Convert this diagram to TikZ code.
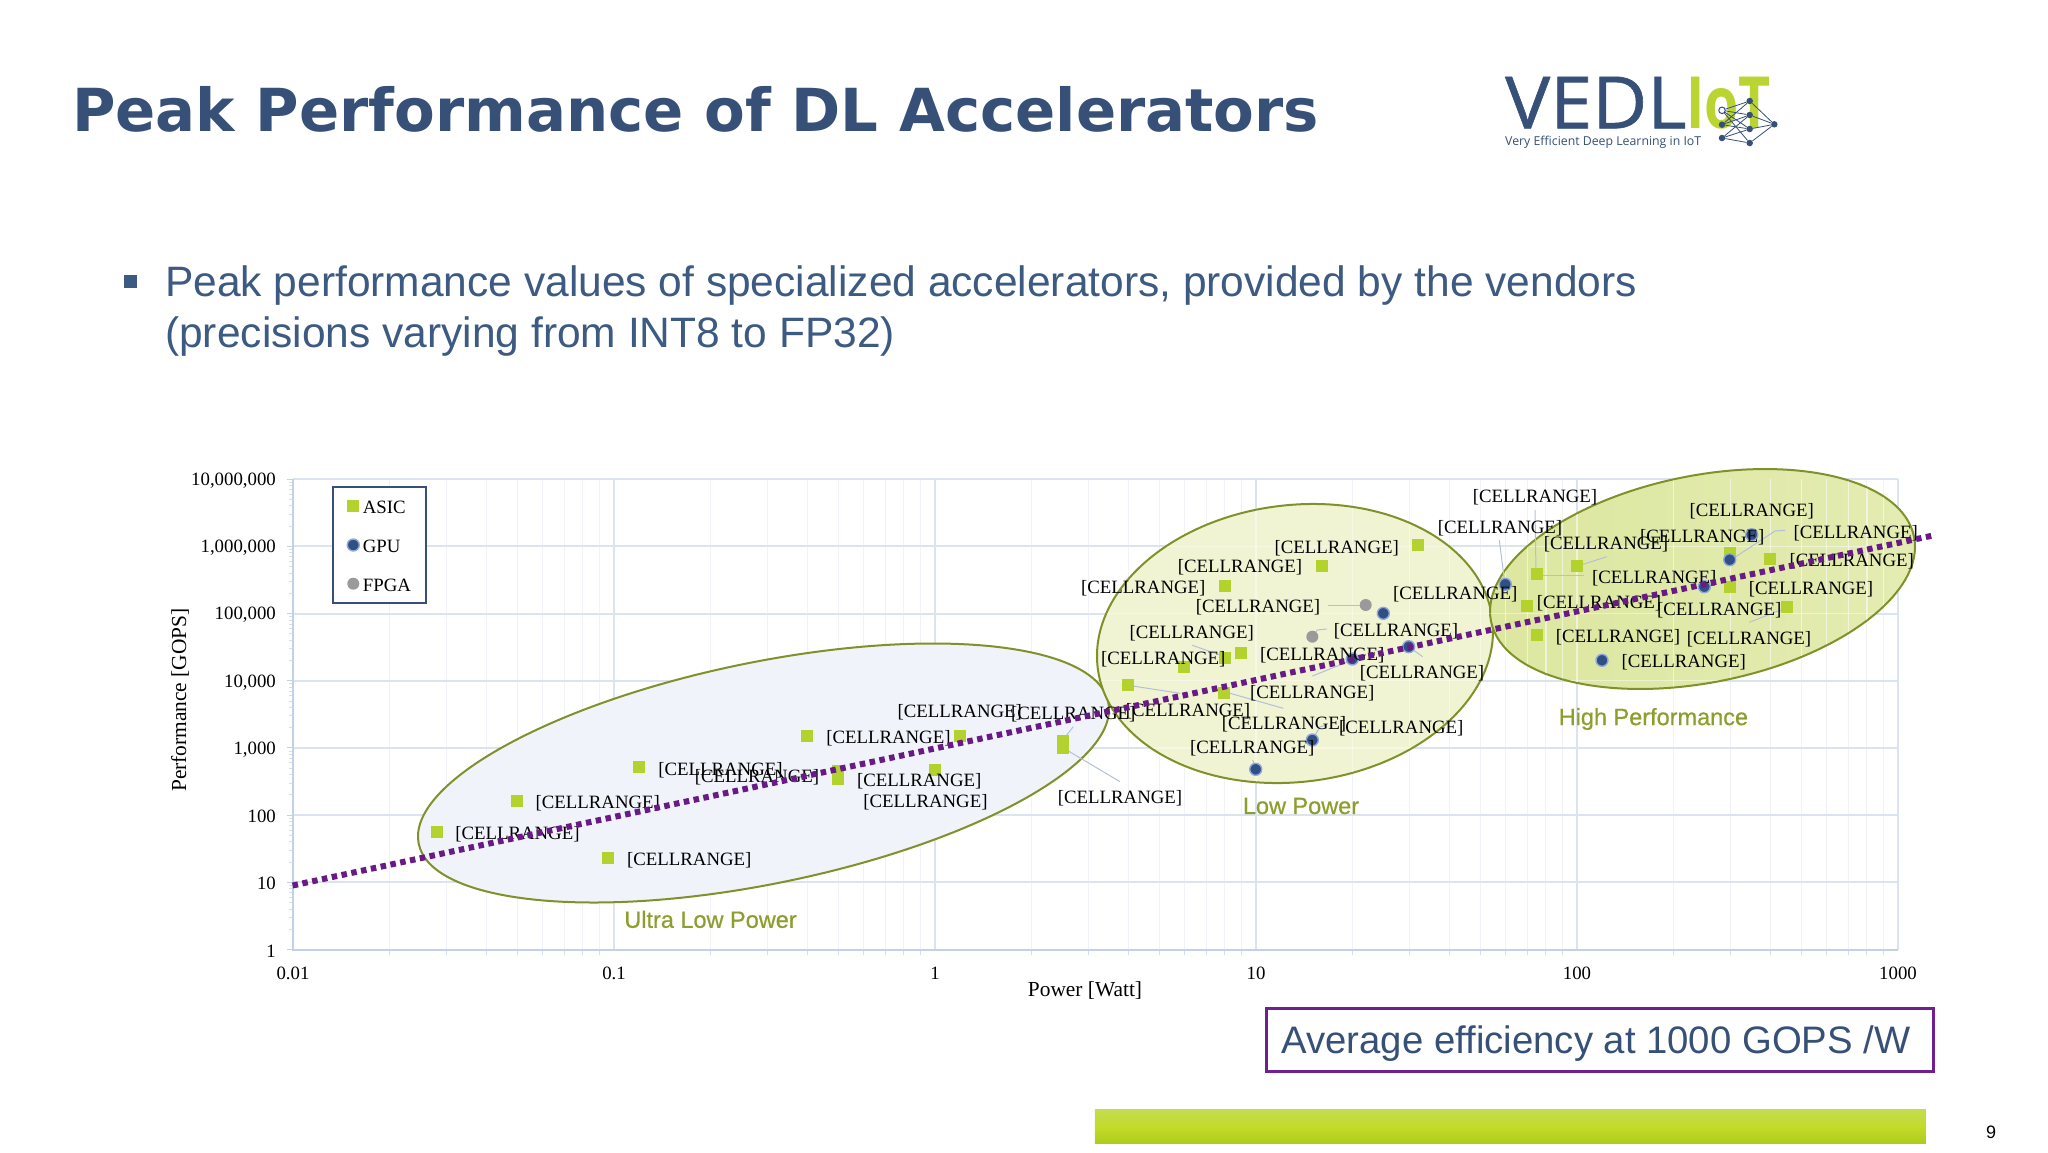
\documentclass[tikz,border=0pt]{standalone}
\usepackage{fontspec}
\setmainfont{Liberation Serif}
\newfontfamily\arialf{Liberation Sans}
\newfontfamily\grpf[FakeBold=0.6]{Liberation Sans}
\newfontfamily\titlef{DejaVu Sans}
\newfontfamily\logof{Open Sans}
\newfontfamily\logoh[FakeBold=0.8]{Open Sans}
\definecolor{navy}{HTML}{365078}
\definecolor{bodyblue}{HTML}{3C5A82}
\definecolor{major}{HTML}{DCE3F0}
\definecolor{minorg}{HTML}{EFF2F7}
\definecolor{axisb}{HTML}{C3D0E6}
\definecolor{leader}{HTML}{B4C0DA}
\definecolor{asic}{HTML}{B4D22E}
\definecolor{gpu}{HTML}{2F4F85}
\definecolor{halo}{HTML}{8FA8D8}
\definecolor{fpga}{HTML}{9A9A9A}
\definecolor{olive}{HTML}{7F9128}
\definecolor{grp}{HTML}{8C9E2B}
\definecolor{purp}{HTML}{681B84}
\definecolor{boxp}{HTML}{6F1F8F}
\definecolor{logog}{HTML}{BAD531}
\definecolor{EllU}{HTML}{F0F3FA}
\definecolor{EllL}{HTML}{F0F4D2}
\definecolor{EllHa}{HTML}{DCE7A0}
\definecolor{EllHb}{HTML}{E4ECB2}
\definecolor{BarT}{HTML}{C4DC50}
\definecolor{BarM}{HTML}{C3DB2A}
\definecolor{BarB}{HTML}{AFCC1A}
\tikzset{
 x=1pt,y=-1pt,
 lbl/.style={inner sep=0pt,font=\fontsize{18.8}{20}\selectfont,text=black,yshift=-1.5pt},
 axt/.style={inner sep=0pt,font=\fontsize{21.4}{24}\selectfont,text=black},
 sq/.style={fill=asic,draw=none,minimum size=12pt,inner sep=0pt,rectangle},
 gp/.style={circle,fill=gpu,draw=halo,line width=1.4pt,minimum size=12pt,inner sep=0pt},
 fp/.style={circle,fill=fpga,draw=none,minimum size=12pt,inner sep=0pt},
 lead/.style={draw=leader,line width=1pt},
 grpl/.style={inner sep=0pt,font=\grpf\fontsize{23.5}{26}\selectfont,text=grp},
 ell/.style={draw=olive,line width=2pt},
 nn/.style={circle,fill=navy,minimum size=6.5pt,inner sep=0pt},
}
\begin{document}
\begin{tikzpicture}
\useasboundingbox (0,0) rectangle (2048,1152);
\fill[white] (0,0) rectangle (2048,1152);
% grid
\foreach \d in {0,...,4}{
 \foreach \m in {2,...,9}{
  \pgfmathsetmacro\xx{293+321*(\d+log10(\m))}
  \draw[minorg,line width=1pt] (\xx,479)--(\xx,950);
  \draw[axisb!70,line width=1pt] (\xx,950)--(\xx,955);
 }
}
\foreach \d in {1,...,5}{
  \pgfmathsetmacro\xx{293+321*\d}
  \draw[major,line width=2pt] (\xx,479)--(\xx,950);
}
\foreach \d in {0,...,7}{
  \pgfmathsetmacro\yy{949.5-67.2*\d}
  \draw[major,line width=2pt] (293,\yy)--(1898,\yy);
  \draw[axisb,line width=1pt] (287,\yy)--(293,\yy);
}
\foreach \d in {0,...,6}{
 \foreach \m in {2,...,9}{
  \pgfmathsetmacro\yy{949.5-67.2*(\d+log10(\m))}
  \draw[axisb!70,line width=.8pt] (289,\yy)--(293,\yy);
 }
}
\draw[axisb,line width=2pt] (293,479)--(293,950)--(1898,950);
% tick labels
\node[lbl,anchor=east] (y7) at (276,479) {10,000,000};
\node[lbl,anchor=east] (y6) at (276,546.3) {1,000,000};
\node[lbl,anchor=east] (y5) at (276,613.5) {100,000};
\node[lbl,anchor=east] (y4) at (276,680.7) {10,000};
\node[lbl,anchor=east] (y3) at (276,747.9) {1,000};
\node[lbl,anchor=east] (y2) at (276,815.1) {100};
\node[lbl,anchor=east] (y1) at (276,882.3) {10};
\node[lbl,anchor=east] (y0) at (276,949.5) {1};
\node[lbl] (x0) at (293,971.5) {0.01};
\node[lbl] (x1) at (614,971.5) {0.1};
\node[lbl] (x2) at (935,971.5) {1};
\node[lbl] (x3) at (1256,971.5) {10};
\node[lbl] (x4) at (1577,971.5) {100};
\node[lbl] (x5) at (1898,971.5) {1000};
\node[axt] (xt) at (1085,990) {Power [Watt]};
\node[axt,rotate=90] (yt) at (180,700) {Performance [GOPS]};
% ellipses
\draw[ell,fill=EllU,rotate around={11.6:(763.5,773)}] (763.5,773) ellipse (352pt and 110.7pt);
\draw[ell,fill=EllL,rotate around={7.1:(1295,643.5)}] (1295,643.5) ellipse (198.8pt and 138.4pt);
\draw[ell,left color=EllHa,right color=EllHb,rotate around={11.3:(1702.5,579)}] (1702.5,579) ellipse (215.7pt and 103.5pt);
\begin{scope}
\clip[rotate around={11.3:(1702.5,579)}] (1702.5,579) ellipse (214.7pt and 102.5pt);
\foreach \d in {2,3,4}{
 \foreach \m in {1,...,9}{
  \pgfmathsetmacro\xx{293+321*(\d+log10(\m))}
  \draw[white,opacity=.55,line width=1.2pt] (\xx,479)--(\xx,950);
 }
}
\draw[white,opacity=.45,line width=1.5pt] (1400,546.3)--(1898,546.3) (1400,613.5)--(1898,613.5) (1400,680.7)--(1898,680.7);
\end{scope}
\begin{scope}
\clip[rotate around={7.1:(1295,643.5)}] (1295,643.5) ellipse (197.8pt and 137.4pt);
\foreach \d in {3}{
 \foreach \m in {1,...,9}{
  \pgfmathsetmacro\xx{293+321*(\d+log10(\m))}
  \draw[white,opacity=.5,line width=1.2pt] (\xx,479)--(\xx,950);
 }
}
\draw[white,opacity=.4,line width=1.5pt] (1090,546.3)--(1500,546.3) (1090,613.5)--(1500,613.5) (1090,680.7)--(1500,680.7) (1090,747.9)--(1500,747.9);
\end{scope}
% legend
\node[draw=navy,line width=2pt,fill=white,minimum width=92.7pt,minimum height=116.6pt,inner sep=0pt] (legend) at (379.4,545) {};
\node[sq] (la) at (353.3,506) {};
\node[gp] (lg) at (353.3,545) {};
\node[fp] (lf) at (353.3,583.7) {};
\node[lbl,anchor=west] (lta) at (362.7,506) {ASIC};
\node[lbl,anchor=west] (ltg) at (362.7,545) {GPU};
\node[lbl,anchor=west] (ltf) at (362.7,583.7) {FPGA};
% leaders
\draw[lead] (1328.3,605)--(1360,605);
\draw[lead] (1326.7,629)--(1317.3,630)--(1312.3,636.7);
\draw[lead] (1192.3,645.3)--(1220,655);
\draw[lead] (1132.7,686)--(1180,693.3);
\draw[lead] (1230,693.3)--(1283.3,708.3);
\draw[lead] (1312.3,676)--(1350,661);
\draw[lead] (1413.3,650)--(1422.7,656.7);
\draw[lead] (1326.7,725)--(1320,726.7)--(1312.3,740);
\draw[lead] (1252.7,760)--(1255.7,768.3);
\draw[lead] (1499.3,540)--(1504.3,580);
\draw[lead] (1073.3,726.7)--(1066.7,735)--(1063.3,743);
\draw[lead] (1066.7,750)--(1120,781.7);
\draw[lead] (1535,510)--(1536,573);
\draw[lead] (1584,575)--(1540,575);
\draw[lead] (1606.7,556.7)--(1580,565.3);
\draw[lead] (1785,530.3)--(1775,531)--(1733.3,558.3);
\draw[lead] (1749.3,622.3)--(1785,608.3);
% markers
\foreach \p/\q [count=\i] in {436.6/831.7,517.4/801,639.3/767.3,608/858,806.7/736,838.4/771,838.4/779,960.3/736,934.8/770,1062.5/741,1062.5/748,1417.7/545.3,1321.7/565.7,1224.7/585.7,1241.3/652.7,1225/657.7,1184.3/667,1128/685.3,1224.3/692.7,1576.7/566.3,1536.7/574.3,1527/605.7,1536.7/634.7,1730/552.7,1769.7/558.7,1730/586.7,1786.7/607.3}
 \node[sq] (a\i) at (\p,\q) {};
\foreach \p/\q [count=\i] in {1383.3/613.3,1352.3/659,1408.7/646.7,1312.3/740,1255.7/769.3,1505.3/584.3,1751.7/534.7,1729.7/559.7,1704.3/586.7,1602/660.3}
 \node[gp] (g\i) at (\p,\q) {};
\node[fp] (f1) at (1365.7,605) {};
\node[fp] (f2) at (1312.3,636.7) {};
% data labels
\foreach \p/\q [count=\i] in {517.4/833,597.8/801.7,720.5/768.3,757/775.7,689.3/859,888.4/736.7,919.2/779.3,925.4/800.7,959.8/711,1073.3/712.7,1120/797,
1336.7/546.3,1240/566,1143.3/586.7,1258/606,1455.3/592.3,1191.7/631.3,1396/629.7,1163.3/658,1322.3/654,1422/671.7,1312.3/691.7,1188/710,1284/722.7,1401.3/726.7,1252.3/746.7,
1500/526.7,1535/495.7,1751.7/509.3,1702.3/536,1855.7/532,1606/542.7,1851.7/559.3,1654.3/576.3,1811/587.7,1599/601.7,1719.3/608.3,1618/635.3,1749/637.7,1683.7/661}
 \node[lbl] (d\i) at (\p,\q) {[CELLRANGE]};
% trend
\coordinate (t0) at (292.6,885.5);
\coordinate (t1) at (1932,535.7);
\draw[purp,line width=6pt,dash pattern=on 5.5pt off 4.5pt] (t0)--(t1);
% group labels
\node[grpl] (g-u) at (710.5,919.4) {Ultra Low Power};
\node[grpl] (g-l) at (1301,806) {Low Power};
\node[grpl] (g-h) at (1653.4,719) {High Performance};
% title
\node[anchor=west,inner sep=0pt,text=navy,font=\titlef\bfseries\fontsize{59.3}{66}\selectfont] (title) at (71.8,109) {Peak Performance of DL Accelerators};
% bullet
\node[fill=bodyblue,minimum size=13pt,inner sep=0pt] (bul) at (130.6,281.5) {};
\node[anchor=base west,inner sep=0pt,text=bodyblue,font=\arialf\fontsize{42.5}{50}\selectfont] (b1) at (165,296) {Peak performance values of specialized accelerators, provided by the vendors};
\node[anchor=base west,inner sep=0pt,text=bodyblue,font=\arialf\fontsize{42.5}{50}\selectfont] (b2) at (165,347) {(precisions varying from INT8 to FP32)};
% efficiency box
\node[draw=boxp,line width=3pt,minimum width=667pt,minimum height=63pt,inner sep=0pt] (effbox) at (1599.5,1039.5) {};
\node[inner sep=0pt,text=navy,font=\arialf\fontsize{38.3}{46}\selectfont] (eff) at (1596,1044) {Average efficiency at 1000 GOPS /W};
% bar
\node[minimum width=831pt,minimum height=34pt,inner sep=0pt,top color=BarT,bottom color=BarB,middle color=BarM] (bar) at (1510.3,1126.3) {};
\node[inner sep=0pt,font=\arialf\fontsize{18}{20}\selectfont] (pg) at (1991,1132) {9};
% logo
\node[anchor=base west,inner sep=0pt,text=navy,xscale=1.05,font=\logoh\fontsize{72}{72}\selectfont] (v) at (1505,128.3) {VEDL};
\node[anchor=base west,inner sep=0pt,text=logog,xscale=.77,font=\logof\bfseries\fontsize{72}{72}\selectfont] (iot) at (1686,128.3) {IoT};
\node[anchor=west,inner sep=0pt,text=navy,font=\logof\fontsize{12.3}{14}\selectfont] (vt) at (1505,142.7) {Very Efficient Deep Learning in IoT};
\node[nn,fill=white,draw=navy,line width=1pt] (n1) at (1722,110.3) {};
\node[nn] (n2) at (1722,124.7) {};
\node[nn] (n3) at (1722,138) {};
\node[nn] (h1) at (1749.7,101) {};
\node[nn] (h2) at (1749.7,115) {};
\node[nn] (h3) at (1749.7,129) {};
\node[nn] (h4) at (1749.7,143) {};
\node[nn] (o1) at (1774.3,124.3) {};
\foreach \a/\b in {n1/h1,n1/h2,n1/h3,n1/h4,n2/h1,n2/h2,n2/h3,n3/h3,n3/h4,n3/h2,h1/o1,h2/o1,h3/o1,h4/o1}
 \draw[navy,line width=.8pt] (\a)--(\b);
\end{tikzpicture}
\end{document}
